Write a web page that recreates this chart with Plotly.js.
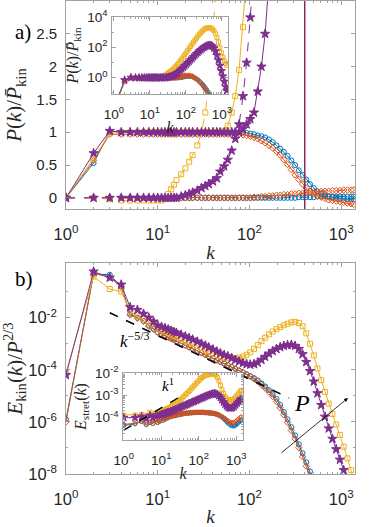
<!DOCTYPE html>
<html>
<head>
<meta charset="utf-8">
<script src="https://cdn.plot.ly/plotly-3.0.1.min.js"></script>
<style>
  html, body { margin: 0; padding: 0; background: #fff; }
  #plot { width: 374px; height: 527px; }
</style>
</head>
<body>
<div id="plot"></div>
<script>
// wavenumber grid shared by every curve
const K = [1,2,3,4,5,6,7,8,9,10,
  11,12,13,14,15,16,18,20,22,24,
  27,30,33,36,40,44,48,53,58,64,
  70,77,85,93,102,112,123,135,148,163,
  179,197,216,237,260,286,314,345,379,416,
  457,502,551,605,665,730,802,881,968,1063,
  1168,1283,1365];

// panel a, solid curves (linear)
const fluxBlue = [0,0.53,1.01,1,1,1,1,1,1,1,
  1,1,1,1,1,1,1,1,1,1,
  1,1,1,1,1,1,1,1,1,1,
  1,1,1,0.99,0.98,0.97,0.95,0.94,0.92,0.89,
  0.85,0.8,0.75,0.7,0.64,0.57,0.5,0.42,0.35,0.28,
  0.21,0.15,0.1,0.07,0.04,0.02,0.01,0,-0.01,-0.01,
  -0.02,-0.02,-0.02];
const fluxOrange = [0,0.57,0.97,0.97,0.97,0.97,0.97,0.97,0.97,0.97,
  0.97,0.97,0.97,0.97,0.97,0.97,0.97,0.97,0.97,0.97,
  0.97,0.97,0.97,0.97,0.97,0.97,0.97,0.97,0.97,0.97,
  0.97,0.97,0.96,0.95,0.94,0.92,0.9,0.87,0.84,0.8,
  0.76,0.71,0.65,0.58,0.51,0.43,0.35,0.28,0.21,0.15,
  0.1,0.06,0.03,0.01,-0.01,-0.03,-0.04,-0.05,-0.06,-0.07,
  -0.08,-0.09,-0.1];
const fluxYellow = [0,0.6,0.98,1,1,1,1,1,1,1,
  1,1,1,1,1,1,1,1,1,1,
  1,1,1,1,1,1,1,1.02,1.1,1.3,
  1.55,1.95,2.6,3.4];
const fluxPurple = [0,0.68,1.02,1,1,1,1,1,1,1,
  1,1,1,1,1,1,1,1,1,1,
  1,1,1,1,1,1,1,1,1,1,
  1,1,1.05,1.12,1.2,1.3,1.62,2.0,2.5,3.3];

// panel a, dashed curves (linear)
const dashBlue = [0,0,0,0,0,0,0,0,0,0,
  0,0,0,0,0,0,0,0,0,0,
  0,0,0,0,0,0,0,0,0,0,
  0,0,0,0,0,0,0,0,0,0,
  0,0,0,0,0,0,0,0.01,0.01,0.01,
  0.01,0.01,0.02,0.02,0.02,0.02,0.02,0.02,0.02,0.02,
  0.02,0.02,0.02];
const dashOrange = [0,0,0,0,0,0,0,0,0,0,
  0,0,0,0,0,0,0,0,0,0,
  0,0,0,0,0,0,0,0,0,0,
  0,0,0,0,0,0.01,0.01,0.02,0.02,0.03,
  0.03,0.04,0.04,0.05,0.05,0.06,0.06,0.07,0.07,0.08,
  0.08,0.09,0.09,0.1,0.1,0.1,0.11,0.11,0.11,0.12,
  0.12,0.12,0.12];
const dashYellow = [0,0,-0.02,-0.04,-0.04,-0.04,-0.04,-0.04,-0.04,-0.04,
  -0.04,0,0.06,0.13,0.2,0.27,0.36,0.45,0.55,0.65,
  0.8,1.0,1.3,1.75,2.5,3.3];
const dashPurple = [0,0,0,0,0,0,0,0,0,0,
  0,0,0,0,0,0,0.02,0.04,0.06,0.08,
  0.11,0.15,0.18,0.21,0.25,0.3,0.4,0.48,0.58,0.72,
  0.9,1.12,1.55,2.06,2.75,3.6];

// panel a inset, log10 of P(k)/Pkin
const insetBlue = [-2,-0.27,0,0,0,0,0,0,0,0,
  0,0,0,0,0,0,0,0,0,0,
  0,0,0,0,0,0,0,0,0,0,
  0,0.02,0.05,0.07,0.09,0.1,0.1,0.09,0.07,0.03,
  -0.02,-0.08,-0.15,-0.23,-0.32,-0.42,-0.53,-0.66,-0.8,-0.95,
  -1.12,-1.3];
const insetOrange = [-2,-0.24,-0.01,-0.01,-0.01,-0.01,-0.01,-0.01,-0.01,-0.01,
  -0.01,-0.01,-0.01,-0.01,-0.01,-0.01,-0.01,-0.01,-0.01,-0.01,
  -0.01,-0.01,-0.01,-0.01,-0.01,-0.01,-0.01,-0.01,0,0.02,
  0.04,0.07,0.1,0.12,0.14,0.15,0.15,0.13,0.1,0.05,
  -0.01,-0.08,-0.16,-0.25,-0.35,-0.47,-0.6,-0.75,-0.9,-1.07,
  -1.25,-1.45];
const insetYellow = [-2,-0.22,-0.01,0,0,0,0,0,0,0,
  0,0,0,0,0,0,0.02,0.05,0.08,0.12,
  0.18,0.25,0.32,0.39,0.47,0.56,0.65,0.76,0.87,0.99,
  1.11,1.24,1.38,1.51,1.64,1.78,1.92,2.06,2.2,2.35,
  2.48,2.61,2.74,2.86,2.97,3.07,3.16,3.23,3.28,3.3,
  3.3,3.27,3.2,3.08,2.9,2.65,2.35,2.0,1.65,1.35,
  1.1,0.92,0.82];
const insetPurple = [-2,-0.15,0.01,0,0,0,0,0,0,0,
  0,0,0,0,0,0,0,0,0,0,
  0,0.02,0.04,0.07,0.1,0.14,0.19,0.25,0.32,0.4,
  0.49,0.58,0.68,0.78,0.88,0.98,1.08,1.18,1.28,1.38,
  1.48,1.58,1.67,1.76,1.84,1.92,1.99,2.05,2.1,2.13,
  2.15,2.13,2.07,1.95,1.75,1.48,1.15,0.8,0.45,0.1,
  -0.25,-0.6,-0.85];

// panel b, log10 of Ekin(k)/P^(2/3)
const specBlue = [-5.9,-0.32,-0.35,-0.8,-1.85,-2.0,-2.12,-2.3,-2.42,-2.56,
  -2.63,-2.69,-2.75,-2.8,-2.85,-2.9,-2.98,-3.06,-3.13,-3.19,
  -3.27,-3.35,-3.42,-3.48,-3.56,-3.63,-3.69,-3.76,-3.82,-3.89,
  -3.96,-4.03,-4.1,-4.17,-4.24,-4.32,-4.41,-4.52,-4.64,-4.78,
  -4.94,-5.12,-5.35,-5.62,-5.9,-6.2,-6.52,-6.86,-7.2,-7.55,
  -7.9,-8.28];
const specOrange = [-6.0,-0.3,-0.45,-0.82,-1.9,-2.02,-2.14,-2.32,-2.44,-2.56,
  -2.63,-2.69,-2.75,-2.8,-2.85,-2.9,-2.98,-3.06,-3.13,-3.19,
  -3.27,-3.35,-3.42,-3.48,-3.56,-3.63,-3.69,-3.76,-3.82,-3.89,
  -3.96,-4.03,-4.1,-4.18,-4.26,-4.35,-4.45,-4.57,-4.7,-4.85,
  -5.02,-5.22,-5.46,-5.73,-6.02,-6.33,-6.65,-6.99,-7.34,-7.7,
  -8.06,-8.45];
const specYellow = [-4.1,-0.42,-0.9,-1.0,-1.75,-1.95,-2.05,-2.15,-2.27,-2.4,
  -2.47,-2.53,-2.59,-2.64,-2.69,-2.73,-2.81,-2.88,-2.95,-3.01,
  -3.09,-3.17,-3.24,-3.3,-3.37,-3.43,-3.48,-3.52,-3.54,-3.55,
  -3.55,-3.53,-3.49,-3.42,-3.33,-3.2,-3.05,-2.9,-2.77,-2.64,
  -2.53,-2.44,-2.36,-2.29,-2.23,-2.18,-2.16,-2.2,-2.33,-2.6,
  -3.0,-3.45,-3.95,-4.4,-4.85,-5.3,-5.7,-6.1,-6.5,-6.95,
  -7.4,-7.85,-8.2];
const specPurple = [-4.2,-0.23,-0.46,-0.73,-1.6,-1.7,-1.85,-2.0,-2.15,-2.3,
  -2.35,-2.4,-2.45,-2.5,-2.55,-2.58,-2.65,-2.72,-2.78,-2.84,
  -2.92,-3.0,-3.07,-3.14,-3.22,-3.3,-3.37,-3.43,-3.48,-3.55,
  -3.62,-3.68,-3.74,-3.78,-3.8,-3.78,-3.72,-3.62,-3.5,-3.38,
  -3.28,-3.2,-3.13,-3.08,-3.05,-3.04,-3.08,-3.2,-3.4,-3.7,
  -4.05,-4.45,-4.9,-5.35,-5.8,-6.25,-6.65,-7.05,-7.45,-7.85,
  -8.25];

// panel b inset, log10 of Estret(k)
const estrBlue = [-4.35,-4.28,-4.18,-4.32,-4.22,-4.27,-4.12,-4.22,-4.17,-4.07,
  -4.12,-4.02,-4.06,-3.99,-4.01,-3.96,-3.96,-3.93,-3.91,-3.9,
  -3.88,-3.86,-3.85,-3.83,-3.82,-3.81,-3.8,-3.79,-3.79,-3.78,
  -3.78,-3.77,-3.77,-3.77,-3.77,-3.77,-3.77,-3.77,-3.78,-3.78,
  -3.79,-3.79,-3.8,-3.81,-3.82,-3.84,-3.86,-3.89,-3.93,-3.97,
  -4.03,-4.1,-4.17,-4.24,-4.3,-4.35,-4.37,-4.37,-4.33,-4.27,
  -4.2,-4.15,-4.12];
const estrOrange = [-4.3,-4.25,-4.15,-4.3,-4.2,-4.25,-4.1,-4.2,-4.15,-4.05,
  -4.1,-4.0,-4.05,-3.98,-4.0,-3.95,-3.95,-3.92,-3.9,-3.9,
  -3.87,-3.86,-3.84,-3.83,-3.82,-3.8,-3.8,-3.79,-3.78,-3.78,
  -3.77,-3.77,-3.76,-3.76,-3.76,-3.76,-3.76,-3.76,-3.77,-3.77,
  -3.78,-3.78,-3.79,-3.8,-3.81,-3.83,-3.85,-3.88,-3.92,-3.96,
  -4.0,-4.05,-4.1,-4.15,-4.19,-4.22,-4.23,-4.22,-4.18,-4.12,
  -4.05,-4.0,-3.97];
const estrYellow = [-3.88,-3.88,-3.85,-3.9,-3.75,-3.85,-3.8,-3.75,-3.75,-3.7,
  -3.68,-3.65,-3.63,-3.6,-3.58,-3.55,-3.5,-3.45,-3.4,-3.36,
  -3.3,-3.24,-3.18,-3.12,-3.05,-2.98,-2.92,-2.85,-2.78,-2.7,
  -2.62,-2.55,-2.47,-2.4,-2.33,-2.26,-2.2,-2.15,-2.11,-2.09,
  -2.08,-2.07,-2.05,-2.04,-2.05,-2.1,-2.2,-2.35,-2.55,-2.75,
  -2.92,-3.05,-3.15,-3.2,-3.22,-3.22,-3.2,-3.15,-3.07,-2.98,
  -2.9,-2.82,-2.78];
const estrPurple = [-4.0,-4.0,-3.95,-4.05,-3.9,-4.0,-3.95,-3.9,-3.9,-3.85,
  -3.85,-3.82,-3.8,-3.78,-3.77,-3.75,-3.72,-3.69,-3.66,-3.63,
  -3.6,-3.56,-3.53,-3.5,-3.47,-3.44,-3.41,-3.38,-3.35,-3.32,
  -3.29,-3.26,-3.23,-3.2,-3.17,-3.14,-3.11,-3.08,-3.05,-3.02,
  -3.0,-2.97,-2.95,-2.93,-2.92,-2.93,-2.96,-3.02,-3.1,-3.2,
  -3.3,-3.4,-3.48,-3.54,-3.57,-3.57,-3.55,-3.5,-3.43,-3.35,
  -3.27,-3.2,-3.15];

// guide lines (end points)
const refK53 = [3, 270];
const refE53 = [-1.81, -5.08];   // log10, slope -5/3
const refK1 = [1, 45];
const refE1 = [-4.56, -2.91];    // log10, slope 1

const vlineK = 400;

const decLabels = ['10<sup>0</sup>', '10<sup>1</sup>', '10<sup>2</sup>', '10<sup>3</sup>'];
const decVals = [1, 10, 100, 1000];

const C = { blue: '#0072BD', orange: '#D95319', yellow: '#EDB120', purple: '#7E2F8E' };
const SANS = 'Liberation Sans, Arial, sans-serif';
const SERIF = 'Liberation Serif, Times New Roman, serif';

const pow10 = a => a.map(v => Math.pow(10, v));

function minorLog(lo, hi) {
  const v = [];
  for (let e = lo; e < hi; e++) for (let m = 2; m <= 9; m++) v.push(m * Math.pow(10, e));
  return v;
}

const traces = [];
function add(x, y, color, symbol, size, xa, ya, dash) {
  traces.push({
    x: x, y: y, xaxis: xa, yaxis: ya, type: 'scatter', mode: 'lines+markers',
    line: { color: color, width: 1, dash: dash || 'solid' },
    marker: { symbol: symbol, size: size, color: color, line: { color: color, width: 1 } },
    showlegend: false, hoverinfo: 'skip'
  });
}

const sets = [
  { c: C.blue, s: 'circle-open', flux: fluxBlue, dash: dashBlue, ins: insetBlue, spec: specBlue, estr: estrBlue },
  { c: C.orange, s: 'diamond-open', flux: fluxOrange, dash: dashOrange, ins: insetOrange, spec: specOrange, estr: estrOrange },
  { c: C.yellow, s: 'square-open', flux: fluxYellow, dash: dashYellow, ins: insetYellow, spec: specYellow, estr: estrYellow },
  { c: C.purple, s: 'star', flux: fluxPurple, dash: dashPurple, ins: insetPurple, spec: specPurple, estr: estrPurple }
];
const big = d => (d.s === 'star' ? 7 : 5);
const small = d => (d.s === 'star' ? 6 : 4);

// panel a
sets.forEach(d => {
  add(K, d.dash, d.c, d.s, big(d), 'x', 'y', 'dash');
  add(K, d.flux, d.c, d.s, big(d), 'x', 'y');
});
// panel a inset
sets.forEach(d => add(K, pow10(d.ins), d.c, d.s, small(d), 'x2', 'y2'));
// panel b
sets.forEach(d => add(K, pow10(d.spec), d.c, d.s, big(d), 'x3', 'y3'));
traces.push({ x: refK53, y: pow10(refE53), xaxis: 'x3', yaxis: 'y3', mode: 'lines',
  line: { color: '#000', width: 1.6, dash: 'dash' }, showlegend: false, hoverinfo: 'skip' });
// panel b inset
sets.forEach(d => add(K, pow10(d.estr), d.c, d.s, small(d), 'x4', 'y4'));
traces.push({ x: refK1, y: pow10(refE1), xaxis: 'x4', yaxis: 'y4', mode: 'lines',
  line: { color: '#000', width: 1.4, dash: 'dash' }, showlegend: false, hoverinfo: 'skip' });

function axis(extra) {
  return Object.assign({
    showline: true, linecolor: '#8a8a8a', linewidth: 0.8, mirror: 'allticks',
    ticks: 'inside', ticklen: 4, tickwidth: 0.8, tickcolor: '#8a8a8a',
    showgrid: false, zeroline: false,
    tickfont: { family: SANS, size: 15, color: '#262626' }
  }, extra);
}
function logX(domain, anchor, range, fs, standoff, title, tfs, tstand) {
  return axis({
    type: 'log', domain: domain, anchor: anchor, range: range,
    tickmode: 'array', tickvals: decVals, ticktext: decLabels,
    tickfont: { family: SANS, size: fs, color: '#262626' },
    ticklabelstandoff: standoff,
    minor: { tickmode: 'array', tickvals: minorLog(0, 4), ticks: 'inside', ticklen: 2, tickcolor: '#8a8a8a' },
    title: { text: title, font: { family: SERIF, size: tfs, color: '#262626' }, standoff: tstand }
  });
}

const W = 374, H = 527;
const xd = (a, b) => [a / W, b / W];
const yd = (top, bot) => [1 - bot / H, 1 - top / H];

const layout = {
  width: W, height: H,
  margin: { l: 0, r: 0, t: 0, b: 0 },
  paper_bgcolor: '#fff', plot_bgcolor: '#fff',
  showlegend: false,
  xaxis: logX(xd(66, 355), 'y', [0, 3.15], 16.5, 10, '<i>k</i>', 19, 4),
  yaxis: axis({
    domain: yd(1, 209), anchor: 'x', range: [-0.17, 3.0], tick0: 0, dtick: 0.5,
    ticklabelstandoff: 5,
    title: { text: '<i>P</i>(<i>k</i>)/<i>P̄</i><sub>kin</sub>', font: { family: SERIF, size: 21, color: '#262626' }, standoff: 8 }
  }),
  xaxis2: logX(xd(112, 228), 'y2', [-0.05, 3.17], 13.5, 8, '<i>k</i>', 16, 0),
  yaxis2: axis({
    type: 'log', domain: yd(17, 94), anchor: 'x2', range: [-1.07, 4],
    tickmode: 'array', tickvals: [1, 100, 10000], ticktext: ['10<sup>0</sup>', '10<sup>2</sup>', '10<sup>4</sup>'],
    tickfont: { family: SANS, size: 13.5, color: '#262626' }, ticklabelstandoff: 1,
    minor: { tickmode: 'array', tickvals: [0.1, 10, 1000], ticks: 'inside', ticklen: 2, tickcolor: '#8a8a8a' },
    title: { text: '<i>P</i>(<i>k</i>)/<i>P̄</i><sub>kin</sub>', font: { family: SERIF, size: 16, color: '#262626' }, standoff: 4 }
  }),
  xaxis3: logX(xd(66, 355), 'y3', [0, 3.15], 16.5, 10, '<i>k</i>', 19, 4),
  yaxis3: axis({
    type: 'log', domain: yd(263, 474), anchor: 'x3', range: [-8, 0.1],
    tickmode: 'array', tickvals: [1e-8, 1e-6, 1e-4, 1e-2],
    ticktext: ['10<sup>-8</sup>', '10<sup>-6</sup>', '10<sup>-4</sup>', '10<sup>-2</sup>'],
    tickfont: { family: SANS, size: 16.5, color: '#262626' }, ticklabelstandoff: 5,
    minor: { tickmode: 'array', tickvals: [1e-7, 1e-5, 1e-3, 1e-1], ticks: 'inside', ticklen: 2, tickcolor: '#8a8a8a' },
    title: { text: '<i>E</i><sub>kin</sub>(<i>k</i>)/<i>P</i><sup>2/3</sup>', font: { family: SERIF, size: 21, color: '#262626' }, standoff: 6 }
  }),
  xaxis4: logX(xd(123, 243), 'y4', [-0.02, 3.18], 13.5, 8, '<i>k</i>', 16, 0),
  yaxis4: axis({
    type: 'log', domain: yd(373, 440), anchor: 'x4', range: [-5, -2],
    tickmode: 'array', tickvals: [1e-4, 1e-3, 1e-2],
    ticktext: ['10<sup>-4</sup>', '10<sup>-3</sup>', '10<sup>-2</sup>'],
    tickfont: { family: SANS, size: 13.5, color: '#262626' }, ticklabelstandoff: 1,
    minor: { tickmode: 'array', tickvals: minorLog(-5, -2), ticks: 'inside', ticklen: 2, tickcolor: '#8a8a8a' },
    title: { text: '<i>E</i><sub>stret</sub>(<i>k</i>)', font: { family: SERIF, size: 16, color: '#262626' }, standoff: 4 }
  }),
  shapes: [
    { type: 'line', xref: 'x', yref: 'y domain', x0: vlineK, x1: vlineK, y0: 0, y1: 1,
      line: { color: '#8B2A5E', width: 1.5 } }
  ],
  annotations: [
    { xref: 'paper', yref: 'paper', x: 13 / W, y: 1 - 18 / H, text: 'a)', showarrow: false,
      font: { family: SERIF, size: 21, color: '#000' } },
    { xref: 'paper', yref: 'paper', x: 13 / W, y: 1 - 279 / H, text: 'b)', showarrow: false,
      font: { family: SERIF, size: 21, color: '#000' } },
    { xref: 'paper', yref: 'paper', x: 118 / W, y: 1 - 340 / H, text: '<i>k</i><sup>−5/3</sup>', showarrow: false,
      font: { family: SERIF, size: 17, color: '#000' } },
    { xref: 'paper', yref: 'paper', x: 168 / W, y: 1 - 396 / H, text: '<i>k</i><sup>1</sup>', showarrow: false,
      font: { family: SERIF, size: 15, color: '#000' } },
    { xref: 'paper', yref: 'paper', x: 348 / W, y: 1 - 398 / H, ax: -68, ay: 56, text: '',
      showarrow: true, arrowhead: 2, arrowsize: 1, arrowwidth: 0.8, arrowcolor: '#000' },
    { xref: 'paper', yref: 'paper', x: 312 / W, y: 1 - 418 / H, text: '<i>P</i>', showarrow: false,
      font: { family: SERIF, size: 24, color: '#000' } }
  ]
};

Plotly.newPlot('plot', traces, layout, { staticPlot: true, displayModeBar: false });
</script>
</body>
</html>
